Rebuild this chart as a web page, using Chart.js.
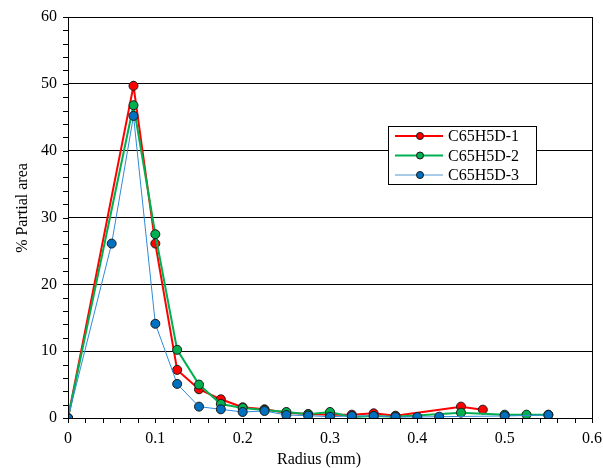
<!DOCTYPE html>
<html>
<head>
<meta charset="utf-8">
<script src="https://cdn.jsdelivr.net/npm/chart.js@4"></script>
<style>
  html, body { margin: 0; padding: 0; background: #fff; }
  .chart-radius { width: 603px; height: 468px; }
</style>
</head>
<body>
<div class="chart-radius">
  <canvas class="js-chart-radius__chart" width="603" height="468"></canvas>
</div>
<script>
const SERIES_LABELS = ['C65H5D-1', 'C65H5D-2', 'C65H5D-3'];

const radius1 = [0, 0.075, 0.1, 0.125, 0.15, 0.175, 0.2, 0.225, 0.25, 0.275, 0.3, 0.325, 0.35, 0.375, 0.45, 0.475];
const area1   = [0, 49.7, 26.1, 7.2, 4.3, 2.8, 1.6, 1.3, 0.8, 0.6, 0.5, 0.5, 0.7, 0.35, 1.7, 1.25];

const radius2 = [0, 0.075, 0.1, 0.125, 0.15, 0.175, 0.2, 0.225, 0.25, 0.275, 0.3, 0.325, 0.35, 0.375, 0.45, 0.5, 0.525, 0.55];
const area2   = [0, 46.8, 27.5, 10.2, 5.0, 2.1, 1.5, 1.2, 0.9, 0.55, 0.9, 0.15, 0.3, 0.2, 0.8, 0.5, 0.5, 0.5];

const radius3 = [0, 0.05, 0.075, 0.1, 0.125, 0.15, 0.175, 0.2, 0.225, 0.25, 0.275, 0.3, 0.325, 0.35, 0.375, 0.4, 0.425, 0.5, 0.55];
const area3   = [0, 26.1, 45.2, 14.1, 5.1, 1.7, 1.3, 0.9, 1.05, 0.45, 0.35, 0.2, 0.3, 0.3, 0.15, 0.15, 0.2, 0.3, 0.45];

const X_TICKS = [0, 0.1, 0.2, 0.3, 0.4, 0.5, 0.6];
const Y_TICKS = [0, 10, 20, 30, 40, 50, 60];

const X_TITLE = 'Radius (mm)';
const Y_TITLE = '% Partial area';

const FONT = "'Liberation Serif', serif";

const styles = [
  { line: '#ff0000', fill: '#ff0000', width: 2, legendLine: '#ff0000' },
  { line: '#00b050', fill: '#00b050', width: 2, legendLine: '#00b050' },
  { line: '#2f8ad8', fill: '#0070c0', width: 1, legendLine: '#a9cbe8' },
];

const toPoints = (xs, ys) => xs.map((x, i) => ({ x, y: ys[i] }));

const datasets = [
  toPoints(radius1, area1),
  toPoints(radius2, area2),
  toPoints(radius3, area3),
].map((data, index) => ({
  label: SERIES_LABELS[index],
  data,
  showLine: true,
  borderColor: styles[index].line,
  borderWidth: styles[index].width,
  backgroundColor: styles[index].fill,
  pointBackgroundColor: styles[index].fill,
  pointBorderColor: '#1a1a1a',
  pointBorderWidth: 1,
  pointRadius: 4.5,
  order: 2 - index,
}));

// frame, outward ticks, axis titles and the boxed legend
const framePlugin = {
  id: 'frame',
  afterDraw(chart) {
    const { ctx, chartArea: area, scales: { x, y } } = chart;

    ctx.save();
    ctx.strokeStyle = '#000';
    ctx.lineWidth = 1;
    ctx.strokeRect(area.left + 0.5, area.top + 0.5, area.right - area.left, area.bottom - area.top);

    ctx.beginPath();
    for (let v = 0; v <= 60.001; v += 2) {
      const py = Math.round(y.getPixelForValue(v)) + 0.5;
      ctx.moveTo(area.left - 5, py);
      ctx.lineTo(area.left, py);
    }
    for (let v = 0; v <= 0.6001; v += 0.02) {
      const px = Math.round(x.getPixelForValue(v)) + 0.5;
      ctx.moveTo(px, area.bottom);
      ctx.lineTo(px, area.bottom + 5);
    }
    ctx.stroke();

    ctx.font = `16px ${FONT}`;
    ctx.fillStyle = '#000';
    ctx.textAlign = 'center';
    ctx.textBaseline = 'middle';
    ctx.fillText(X_TITLE, 319, 460);

    ctx.save();
    ctx.translate(23, 208);
    ctx.rotate(-Math.PI / 2);
    ctx.fillText(Y_TITLE, 0, 0);
    ctx.restore();

    // legend
    const box = { left: 388, top: 126, width: 148, height: 58 };
    ctx.fillStyle = '#fff';
    ctx.fillRect(box.left, box.top, box.width, box.height);
    ctx.strokeRect(box.left + 0.5, box.top + 0.5, box.width, box.height);

    ctx.textAlign = 'left';
    SERIES_LABELS.forEach((label, index) => {
      const rowY = box.top + 10 + index * 19.5;
      ctx.strokeStyle = styles[index].legendLine;
      ctx.lineWidth = 2;
      ctx.beginPath();
      ctx.moveTo(395, rowY);
      ctx.lineTo(443, rowY);
      ctx.stroke();

      ctx.fillStyle = styles[index].fill;
      ctx.strokeStyle = '#1a1a1a';
      ctx.lineWidth = 1;
      ctx.beginPath();
      ctx.arc(420, rowY, 3.5, 0, Math.PI * 2);
      ctx.fill();
      ctx.stroke();

      ctx.fillStyle = '#000';
      ctx.fillText(label, 448, rowY + 1);
    });
    ctx.restore();
  }
};

const context = document.querySelector('.js-chart-radius__chart').getContext('2d');

new Chart(context, {
  type: 'scatter',
  data: { datasets },
  options: {
    responsive: false,
    animation: false,
    layout: { padding: { top: 17, right: 11, left: 0, bottom: 0 } },
    plugins: {
      legend: { display: false },
      tooltip: { enabled: false },
    },
    scales: {
      x: {
        type: 'linear',
        min: 0,
        max: 0.6,
        afterFit: scale => {
          scale.height = 50;
          scale.paddingLeft = 0;
          scale.paddingRight = 0;
        },
        afterBuildTicks: scale => { scale.ticks = X_TICKS.map(value => ({ value })); },
        ticks: {
          color: '#000',
          font: { family: FONT, size: 16 },
          padding: 11,
          maxRotation: 0,
          callback: value => String(Number(value.toFixed(1))),
        },
        grid: { display: false, drawTicks: false },
        border: { display: false },
      },
      y: {
        min: 0,
        max: 60,
        afterFit: scale => {
          scale.width = 68;
          scale.paddingTop = 0;
          scale.paddingBottom = 0;
        },
        afterBuildTicks: scale => { scale.ticks = Y_TICKS.map(value => ({ value })); },
        ticks: {
          color: '#000',
          font: { family: FONT, size: 16 },
          padding: 11,
        },
        grid: {
          drawTicks: false,
          color: c => (c.tick.value === 0 || c.tick.value === 60 ? 'transparent' : '#000'),
          lineWidth: 1,
        },
        border: { display: false },
      },
    },
  },
  plugins: [framePlugin],
});
</script>
</body>
</html>
